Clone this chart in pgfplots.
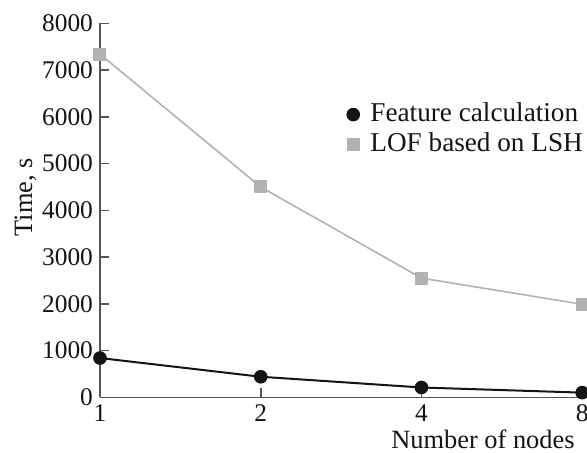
\documentclass[border=0pt]{standalone}
\usepackage{fontspec}
\setmainfont{Liberation Serif}
\usepackage{pgfplots}
\pgfplotsset{compat=1.18}
\definecolor{lofgray}{RGB}{178,178,178}
\definecolor{featblack}{RGB}{20,20,20}
\definecolor{axgray}{RGB}{85,85,85}
\begin{document}
\begin{tikzpicture}
\begin{axis}[
  scale only axis,
  width=243.5pt, height=187pt,
  xmin=0, xmax=3.03, ymin=0, ymax=8000,
  axis lines*=left,
  axis line style={draw=axgray, line width=0.8pt},
  clip=false,
  xtick={0,1,2,3}, xticklabels={1,2,4,8},
  ytick={0,1000,2000,3000,4000,5000,6000,7000,8000},
  tick align=inside,
  major tick length=4.5pt,
  tick style={draw=axgray, line width=0.8pt},
  /pgf/number format/assume math mode=true,
  /pgf/number format/1000 sep={},
  scaled y ticks=false,
  font=\fontsize{12.7}{15}\selectfont,
  ticklabel style={font=\fontsize{12.7}{15}\selectfont, text=featblack},
  xlabel={Number of nodes},
  ylabel={Time, s},
  x label style={at={(axis description cs:0.7864,-0.1356)}, anchor=base, font=\fontsize{13.2}{15}\selectfont, text=featblack},
  y label style={at={(axis description cs:-0.1396,0.535)}, anchor=base, rotate=0, font=\fontsize{13.2}{15}\selectfont, text=featblack},
  legend style={draw=none, fill=none, at={(axis description cs:0.495,0.804)}, anchor=north west,
    font=\fontsize{13.6}{15}\selectfont, text=featblack,
    nodes={inner sep=0pt, text height=10pt, text depth=3.6pt},
    row sep=1.4pt,
    /tikz/every odd column/.append style={column sep=5.7pt}},
  legend cell align=left,
  legend image code/.code={\draw[#1] plot coordinates {(0pt,0pt)};},
]
\addplot[color=featblack, line width=1pt, mark=*, mark size=2.9pt, mark options={fill=featblack, draw=featblack}]
  coordinates {(0,840) (1,440) (2,210) (3,100)};
\addlegendentry{Feature calculation}
\addplot[color=lofgray, line width=0.8pt, mark=square*, mark size=2.85pt, mark options={fill=lofgray, draw=lofgray}]
  coordinates {(0,7340) (1,4500) (2,2550) (3,1990)};
\addlegendentry{LOF based on LSH}
\end{axis}
\pgfresetboundingbox
\path[use as bounding box] (-50pt,-27.35pt) rectangle (243.5pt,198.65pt);
\end{tikzpicture}
\end{document}
